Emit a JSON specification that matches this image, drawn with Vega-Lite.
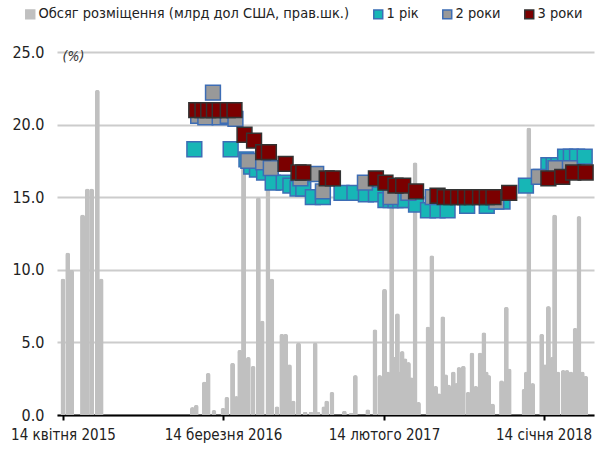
{
  "$schema": "https://vega.github.io/schema/vega-lite/v6.json",
  "width": 537,
  "height": 363,
  "autosize": {"type": "none"},
  "padding": {"left": 57, "top": 52, "right": 4, "bottom": 35},
  "background": "white",
  "config": {
    "font": "Liberation Sans Narrow, Arial Narrow, DejaVu Sans Condensed, sans-serif",
    "view": {"stroke": null},
    "axis": {"labelFont": "Liberation Sans Narrow, Arial Narrow, DejaVu Sans Condensed, sans-serif", "labelColor": "#222222"}
  },
  "datasets": {
    "vol": [
      {"date": "2015-04-14", "value": 9.4},
      {"date": "2015-04-24", "value": 11.2},
      {"date": "2015-05-02", "value": 10.0},
      {"date": "2015-05-25", "value": 13.8},
      {"date": "2015-06-04", "value": 15.6},
      {"date": "2015-06-13", "value": 15.6},
      {"date": "2015-06-25", "value": 22.4},
      {"date": "2015-07-03", "value": 9.4},
      {"date": "2016-01-10", "value": 0.55},
      {"date": "2016-01-18", "value": 0.7},
      {"date": "2016-02-04", "value": 2.3},
      {"date": "2016-02-12", "value": 2.9},
      {"date": "2016-02-24", "value": 0.35},
      {"date": "2016-03-14", "value": 0.5},
      {"date": "2016-03-22", "value": 1.25},
      {"date": "2016-04-03", "value": 3.6},
      {"date": "2016-04-11", "value": 1.3},
      {"date": "2016-04-18", "value": 4.5},
      {"date": "2016-04-26", "value": 17.8},
      {"date": "2016-05-06", "value": 4.0},
      {"date": "2016-05-16", "value": 3.4},
      {"date": "2016-05-27", "value": 15.0},
      {"date": "2016-06-04", "value": 6.5},
      {"date": "2016-06-16", "value": 16.0},
      {"date": "2016-06-24", "value": 9.4},
      {"date": "2016-07-05", "value": 0.6},
      {"date": "2016-07-15", "value": 5.6},
      {"date": "2016-07-23", "value": 5.6},
      {"date": "2016-07-31", "value": 3.5},
      {"date": "2016-08-08", "value": 1.0},
      {"date": "2016-08-19", "value": 5.0},
      {"date": "2016-09-02", "value": 0.2},
      {"date": "2016-09-14", "value": 0.2},
      {"date": "2016-09-23", "value": 5.0},
      {"date": "2016-09-29", "value": 0.2},
      {"date": "2016-10-11", "value": 0.6},
      {"date": "2016-10-17", "value": 1.0},
      {"date": "2016-10-28", "value": 1.6},
      {"date": "2016-11-23", "value": 0.3},
      {"date": "2016-12-08", "value": 0.15},
      {"date": "2016-12-16", "value": 2.75},
      {"date": "2017-01-11", "value": 0.4},
      {"date": "2017-01-26", "value": 5.9},
      {"date": "2017-02-05", "value": 2.75},
      {"date": "2017-02-15", "value": 8.7},
      {"date": "2017-02-22", "value": 3.0},
      {"date": "2017-03-02", "value": 15.3},
      {"date": "2017-03-08", "value": 4.0},
      {"date": "2017-03-14", "value": 7.0},
      {"date": "2017-03-19", "value": 3.0},
      {"date": "2017-03-24", "value": 4.4},
      {"date": "2017-03-30", "value": 3.9},
      {"date": "2017-04-06", "value": 3.65},
      {"date": "2017-04-12", "value": 2.6},
      {"date": "2017-04-20", "value": 17.4},
      {"date": "2017-04-27", "value": 0.9},
      {"date": "2017-05-17", "value": 6.1},
      {"date": "2017-05-25", "value": 11.0},
      {"date": "2017-06-02", "value": 2.0},
      {"date": "2017-06-09", "value": 1.5},
      {"date": "2017-06-17", "value": 6.8},
      {"date": "2017-06-23", "value": 2.8},
      {"date": "2017-06-29", "value": 2.1},
      {"date": "2017-07-04", "value": 1.4},
      {"date": "2017-07-09", "value": 3.0},
      {"date": "2017-07-15", "value": 2.2},
      {"date": "2017-07-21", "value": 3.3},
      {"date": "2017-07-30", "value": 3.4},
      {"date": "2017-08-09", "value": 1.6},
      {"date": "2017-08-17", "value": 4.3},
      {"date": "2017-08-25", "value": 2.0},
      {"date": "2017-09-03", "value": 4.3},
      {"date": "2017-09-11", "value": 5.7},
      {"date": "2017-09-16", "value": 3.0},
      {"date": "2017-09-21", "value": 2.75},
      {"date": "2017-09-29", "value": 0.8},
      {"date": "2017-10-18", "value": 2.4},
      {"date": "2017-10-28", "value": 7.45},
      {"date": "2017-11-03", "value": 3.2},
      {"date": "2017-12-04", "value": 1.8},
      {"date": "2017-12-09", "value": 3.0},
      {"date": "2017-12-14", "value": 19.8},
      {"date": "2017-12-22", "value": 2.2},
      {"date": "2018-01-10", "value": 5.6},
      {"date": "2018-01-17", "value": 3.5},
      {"date": "2018-01-24", "value": 7.5},
      {"date": "2018-02-01", "value": 4.0},
      {"date": "2018-02-06", "value": 13.8},
      {"date": "2018-02-13", "value": 3.0},
      {"date": "2018-02-24", "value": 3.1},
      {"date": "2018-03-04", "value": 3.1},
      {"date": "2018-03-12", "value": 3.0},
      {"date": "2018-03-21", "value": 6.0},
      {"date": "2018-03-25", "value": 3.0},
      {"date": "2018-03-29", "value": 13.7},
      {"date": "2018-04-05", "value": 3.0},
      {"date": "2018-04-12", "value": 2.7}
    ],
    "y1": [
      {"date": "2016-01-14", "value": 18.3},
      {"date": "2016-03-30", "value": 18.3},
      {"date": "2016-05-02", "value": 17.6},
      {"date": "2016-05-12", "value": 17.1},
      {"date": "2016-05-24", "value": 16.9},
      {"date": "2016-06-08", "value": 16.7},
      {"date": "2016-06-26", "value": 16.0},
      {"date": "2016-07-19", "value": 16.0},
      {"date": "2016-08-02", "value": 15.8},
      {"date": "2016-08-17", "value": 15.6},
      {"date": "2016-08-29", "value": 15.6},
      {"date": "2016-09-18", "value": 15.0},
      {"date": "2016-10-09", "value": 15.0},
      {"date": "2016-11-17", "value": 15.3},
      {"date": "2016-12-14", "value": 15.3},
      {"date": "2017-01-07", "value": 15.2},
      {"date": "2017-01-28", "value": 15.2},
      {"date": "2017-02-17", "value": 14.8},
      {"date": "2017-02-28", "value": 14.8},
      {"date": "2017-03-10", "value": 14.8},
      {"date": "2017-03-20", "value": 14.8},
      {"date": "2017-03-30", "value": 14.8},
      {"date": "2017-04-22", "value": 14.5},
      {"date": "2017-05-17", "value": 14.1},
      {"date": "2017-06-06", "value": 14.1},
      {"date": "2017-06-27", "value": 14.1},
      {"date": "2017-08-07", "value": 14.4},
      {"date": "2017-09-17", "value": 14.4},
      {"date": "2017-10-20", "value": 14.7},
      {"date": "2017-12-08", "value": 15.8},
      {"date": "2018-01-08", "value": 16.4},
      {"date": "2018-01-24", "value": 17.2},
      {"date": "2018-02-04", "value": 17.2},
      {"date": "2018-02-14", "value": 17.2},
      {"date": "2018-02-28", "value": 17.8},
      {"date": "2018-03-12", "value": 17.8},
      {"date": "2018-03-25", "value": 17.8},
      {"date": "2018-04-10", "value": 17.8}
    ],
    "y2": [
      {"date": "2016-01-22", "value": 20.6},
      {"date": "2016-02-06", "value": 20.5},
      {"date": "2016-02-22", "value": 22.2},
      {"date": "2016-03-07", "value": 20.5},
      {"date": "2016-03-24", "value": 20.6},
      {"date": "2016-04-09", "value": 20.4},
      {"date": "2016-05-06", "value": 17.5},
      {"date": "2016-06-06", "value": 17.4},
      {"date": "2016-06-22", "value": 17.0},
      {"date": "2016-08-23", "value": 16.3},
      {"date": "2016-09-25", "value": 16.6},
      {"date": "2016-10-09", "value": 15.4},
      {"date": "2017-01-05", "value": 16.0},
      {"date": "2017-02-28", "value": 15.0},
      {"date": "2017-04-06", "value": 15.3},
      {"date": "2017-05-27", "value": 15.0},
      {"date": "2017-10-07", "value": 14.7},
      {"date": "2018-01-04", "value": 16.4},
      {"date": "2018-02-08", "value": 17.0},
      {"date": "2018-03-10", "value": 17.0}
    ],
    "y3": [
      {"date": "2016-01-18", "value": 21.0},
      {"date": "2016-01-31", "value": 21.0},
      {"date": "2016-02-12", "value": 21.0},
      {"date": "2016-02-24", "value": 21.0},
      {"date": "2016-03-07", "value": 21.0},
      {"date": "2016-03-24", "value": 21.0},
      {"date": "2016-04-07", "value": 21.0},
      {"date": "2016-04-28", "value": 19.3},
      {"date": "2016-05-18", "value": 18.9},
      {"date": "2016-06-06", "value": 18.1},
      {"date": "2016-06-18", "value": 18.1},
      {"date": "2016-07-23", "value": 17.3},
      {"date": "2016-08-19", "value": 16.7},
      {"date": "2016-08-29", "value": 16.7},
      {"date": "2016-10-17", "value": 16.3},
      {"date": "2016-10-30", "value": 16.3},
      {"date": "2017-01-28", "value": 16.3},
      {"date": "2017-02-17", "value": 16.0},
      {"date": "2017-03-10", "value": 15.8},
      {"date": "2017-03-26", "value": 15.8},
      {"date": "2017-04-22", "value": 15.4},
      {"date": "2017-06-06", "value": 15.1},
      {"date": "2017-06-21", "value": 15.0},
      {"date": "2017-07-05", "value": 15.0},
      {"date": "2017-07-19", "value": 15.0},
      {"date": "2017-08-03", "value": 15.0},
      {"date": "2017-08-17", "value": 15.0},
      {"date": "2017-09-03", "value": 15.0},
      {"date": "2017-09-17", "value": 15.0},
      {"date": "2017-10-01", "value": 15.0},
      {"date": "2017-11-03", "value": 15.3},
      {"date": "2018-01-24", "value": 16.3},
      {"date": "2018-02-22", "value": 16.4},
      {"date": "2018-03-17", "value": 16.7},
      {"date": "2018-04-12", "value": 16.7}
    ]
  },
  "encoding": {
    "x": {
      "field": "date", "type": "temporal",
      "scale": {"type": "utc", "domain": [{"year": 2015, "month": 4, "date": 12, "utc": true}, {"year": 2018, "month": 4, "date": 19, "utc": true}]},
      "axis": {
        "title": null, "grid": false,
        "values": [{"year": 2015, "month": 4, "date": 14, "utc": true}, {"year": 2016, "month": 3, "date": 14, "utc": true}, {"year": 2017, "month": 2, "date": 14, "utc": true}, {"year": 2018, "month": 1, "date": 14, "utc": true}],
        "labelExpr": "utcdate(datum.value) + ' ' + (utcmonth(datum.value) == 3 ? 'квітня' : utcmonth(datum.value) == 2 ? 'березня' : utcmonth(datum.value) == 1 ? 'лютого' : 'січня') + ' ' + utcyear(datum.value)",
        "labelFontSize": 15, "labelPadding": 7, "labelFlush": false, "labelOverlap": false,
        "domainColor": "#000000", "domainWidth": 2, "tickColor": "#000000", "tickWidth": 2, "tickSize": 5
      }
    },
    "y": {
      "field": "value", "type": "quantitative",
      "scale": {"domain": [0, 25], "nice": false, "zero": true},
      "axis": {
        "values": [0, 5, 10, 15, 20, 25], "format": ".1f",
        "title": "(%)", "titleAngle": 0, "titleX": 16, "titleY": 4, "titleAlign": "center", "titleBaseline": "middle",
        "titleFontStyle": "italic", "titleFontWeight": "normal", "titleFontSize": 14, "titleColor": "#333333",
        "titleFont": "Liberation Sans Narrow, Arial Narrow, DejaVu Sans Condensed, sans-serif",
        "labelFontSize": 16, "labelPadding": 13, "labelBaseline": "middle", "domain": false, "ticks": false,
        "gridColor": "#CCCCCC", "gridWidth": 2
      }
    }
  },
  "layer": [
    {
      "data": {"name": "vol"},
      "transform": [{"calculate": "'Обсяг розміщення (млрд дол США, прав.шк.)'", "as": "series"}],
      "mark": {"type": "bar", "width": 5, "cornerRadiusTopLeft": 2.5, "cornerRadiusTopRight": 2.5, "opacity": 1},
      "encoding": {
        "color": {
          "field": "series", "type": "nominal",
          "scale": {"domain": ["Обсяг розміщення (млрд дол США, прав.шк.)", "1 рік", "2 роки", "3 роки"], "range": ["#C0C0C0", "#17B6B6", "#999999", "#7B0000"]},
          "legend": {
            "title": null, "orient": "none", "legendX": -34, "legendY": -45, "direction": "horizontal", "columns": 4,
            "symbolType": "square", "symbolSize": 80, "symbolStrokeWidth": 1.5, "symbolOpacity": 1,
            "labelFontSize": 14.5, "labelColor": "#222222", "labelOffset": 1, "columnPadding": 20,
            "labelFont": "Liberation Sans Narrow, Arial Narrow, DejaVu Sans Condensed, sans-serif",
            "labelLimit": 400,
            "encode": {"symbols": {"update": {"stroke": {"signal": "datum.value == '3 роки' ? '#333333' : datum.value == '1 рік' || datum.value == '2 роки' ? '#3D6DB5' : '#C0C0C0'"}, "strokeWidth": {"value": 1.5}}}}
          }
        }
      }
    },
    {
      "data": {"name": "y1"},
      "transform": [{"calculate": "'1 рік'", "as": "series"}],
      "mark": {"type": "point", "shape": "square", "filled": true, "size": 220, "stroke": "#3D6DB5", "strokeWidth": 1.5, "opacity": 1},
      "encoding": {"color": {"field": "series", "type": "nominal"}}
    },
    {
      "data": {"name": "y2"},
      "transform": [{"calculate": "'2 роки'", "as": "series"}],
      "mark": {"type": "point", "shape": "square", "filled": true, "size": 220, "stroke": "#3D6DB5", "strokeWidth": 1.5, "opacity": 1},
      "encoding": {"color": {"field": "series", "type": "nominal"}}
    },
    {
      "data": {"name": "y3"},
      "transform": [{"calculate": "'3 роки'", "as": "series"}],
      "mark": {"type": "point", "shape": "square", "filled": true, "size": 220, "stroke": "#333333", "strokeWidth": 1.5, "opacity": 1},
      "encoding": {"color": {"field": "series", "type": "nominal"}}
    }
  ]
}
